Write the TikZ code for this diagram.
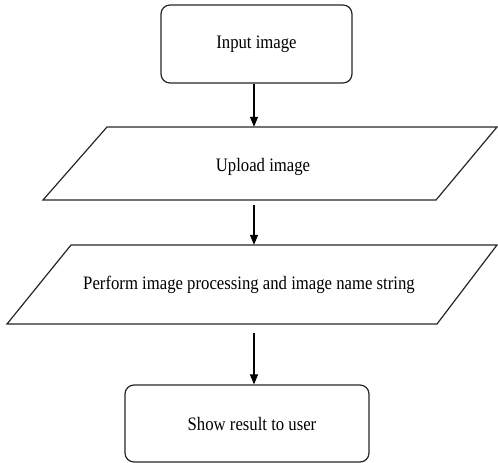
\documentclass[tikz,border=0pt]{standalone}
\usepackage{fontspec}
\setmainfont[FakeStretch=0.88]{Liberation Serif}
\usetikzlibrary{arrows.meta}
\begin{document}
\begin{tikzpicture}[x=1pt,y=-1pt,
  lbl/.style={inner sep=0pt,font=\fontsize{19}{21}\selectfont},
  term/.style={draw=black!85,line width=1.2pt,rounded corners=9pt,inner sep=0pt},
  para/.style={draw=black!85,line width=1.2pt,line join=miter},
  arr/.style={line width=1.1pt,-{Triangle[length=10pt,width=8pt]}}]
\useasboundingbox (0,0) rectangle (498,463);
% terminal 1
\node[term,minimum width=191pt,minimum height=78pt] (b1) at (256.5,44) {};
\node[lbl] (t1) at (256.5,44) {Input image};
% parallelogram 1
\draw[para] (107,127) -- (497,127) -- (436,200) -- (43,200) -- cycle;
\node[minimum width=200pt,minimum height=73pt,inner sep=0pt] (p1) at (263,163.5) {};
\node[lbl] (t2) at (263,167) {Upload image};
% parallelogram 2
\draw[para] (71,245) -- (497,245) -- (437,324) -- (7,324) -- cycle;
\node[minimum width=200pt,minimum height=79pt,inner sep=0pt] (p2) at (249,284.5) {};
\node[lbl] (t3) at (249,284.5) {Perform image processing and image name string};
% terminal 2
\node[term,minimum width=244pt,minimum height=77pt] (b2) at (247,423.5) {};
\node[lbl] (t4) at (252,423.5) {Show result to user};
% connectors
\coordinate (ax) at (254,0);
\draw[arr] (b1.south -| ax) -- (p1.north -| ax);
\draw[arr,shorten <=5pt] (p1.south -| ax) -- (p2.north -| ax);
\draw[arr,shorten <=9pt] (p2.south -| ax) -- (b2.north -| ax);
\end{tikzpicture}
\end{document}
